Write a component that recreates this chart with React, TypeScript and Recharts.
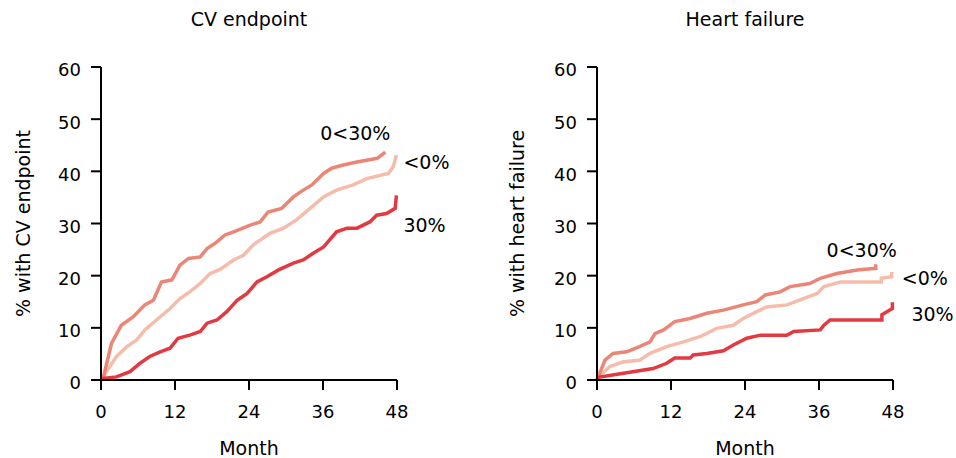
import React from 'react';
import { LineChart, Line, XAxis, YAxis } from 'recharts';

// [month, % with event]
const cvMid = [
  [0, 0], [0.4, 0.6], [1.7, 7.0], [3.3, 10.5], [5.2, 12.1], [7.1, 14.4], [8.5, 15.3], [9.8, 18.8],
  [11.5, 19.2], [12.8, 22.0], [14.2, 23.3], [16.1, 23.6], [17.2, 25.2], [18.5, 26.2], [20.1, 27.8],
  [21.5, 28.4], [24.2, 29.7], [25.8, 30.3], [27.1, 32.2], [29.3, 32.9], [31.2, 35.1], [32.8, 36.4],
  [34.2, 37.4], [36.1, 39.6], [37.4, 40.6], [39.3, 41.2], [41.5, 41.8], [44.8, 42.5], [46.1, 43.7],
];
const cvNeg = [
  [0, 0], [0.4, 0.7], [2.5, 4.5], [4.2, 6.4], [5.8, 7.7], [7.1, 9.6], [9.0, 11.5], [11.2, 13.7],
  [12.8, 15.6], [14.4, 16.9], [16.1, 18.5], [17.7, 20.4], [19.3, 21.2], [21.5, 23.0], [23.1, 23.9],
  [24.7, 25.9], [27.4, 28.1], [29.6, 29.1], [31.7, 30.7], [33.9, 32.9], [36.1, 35.1], [38.2, 36.4],
  [40.9, 37.4], [43.1, 38.6], [46.6, 39.6], [47.4, 40.9], [47.9, 43.1],
];
const cvHigh = [
  [0, 0], [0.4, 0.3], [2.5, 0.6], [4.7, 1.6], [6.3, 3.2], [7.9, 4.5], [9.6, 5.4], [11.2, 6.1],
  [12.5, 8.0], [14.4, 8.6], [16.1, 9.3], [17.2, 10.9], [18.8, 11.5], [20.4, 13.1], [22.1, 15.3],
  [23.7, 16.6], [25.3, 18.8], [26.9, 19.8], [28.8, 21.1], [31.2, 22.4], [32.8, 23.0], [34.4, 24.3],
  [36.1, 25.5], [38.2, 28.4], [39.9, 29.1], [41.5, 29.1], [43.6, 30.3], [44.7, 31.6], [46.3, 31.9],
  [47.7, 32.9], [47.9, 35.4],
];

const hfMid = [
  [0, 0], [0.2, 0.6], [1.3, 3.8], [2.6, 5.1], [4.8, 5.4], [6.9, 6.4], [8.6, 7.3], [9.4, 8.9],
  [10.8, 9.6], [12.6, 11.2], [15.1, 11.8], [17.8, 12.8], [20.5, 13.4], [23.7, 14.4], [25.9, 15.0],
  [27.3, 16.3], [29.7, 16.9], [31.3, 17.9], [34.5, 18.5], [36.2, 19.5], [38.9, 20.4], [42.2, 21.1],
  [45.2, 21.4], [45.2, 22.2],
];
const hfNeg = [
  [0, 0], [0.2, 0.6], [2.1, 2.6], [4.3, 3.5], [6.9, 3.8], [8.6, 5.1], [11.3, 6.4], [14.0, 7.3],
  [16.7, 8.3], [19.4, 9.9], [22.1, 10.5], [23.7, 11.8], [25.9, 13.1], [27.5, 14.0], [30.8, 14.4],
  [33.5, 15.6], [35.7, 16.6], [36.8, 17.9], [39.5, 18.8], [46.1, 18.8], [46.1, 19.5], [47.8, 19.8],
  [47.8, 20.7],
];
const hfHigh = [
  [0, 0], [0.2, 0.5], [4.3, 1.3], [9.1, 2.2], [11.3, 3.2], [12.6, 4.2], [15.1, 4.2], [15.6, 4.8],
  [17.8, 5.1], [20.5, 5.6], [22.1, 6.7], [24.3, 8.0], [26.5, 8.6], [30.8, 8.6], [31.9, 9.3],
  [36.2, 9.6], [36.8, 10.5], [37.8, 11.5], [46.2, 11.5], [46.2, 12.5], [47.0, 13.1], [47.9, 13.7],
  [47.9, 14.9],
];

const monthTicks = [0, 12, 24, 36, 48];
const pctTicks = [0, 10, 20, 30, 40, 50, 60];

const COLORS = { mid: '#EB8677', neg: '#F6BCAB', high: '#E23A40' };

const toRows = (pts: number[][]) => pts.map(([month, v]) => ({ month, v }));

const endLabel = (text: string, last: number, dx: number, dy: number, anchor: string) => (props: any) => {
  if (props.index !== last) return null;
  return (
    <text x={props.x + dx} y={props.y + dy} textAnchor={anchor} dominantBaseline="central" fontSize={19} fill="#000">
      {text}
    </text>
  );
};

interface PanelProps {
  title: string;
  yLabel: string;
  mid: number[][];
  neg: number[][];
  high: number[][];
  yAxisWidth: number;
  rightMargin: number;
  yLabelX: number;
  labels: { mid: number[]; neg: number[]; high: number[] };
}

const Panel: React.FC<PanelProps> = ({ title, yLabel, mid, neg, high, yAxisWidth, rightMargin, yLabelX, labels }) => {
  const plotCenter = yAxisWidth + (478 - yAxisWidth - rightMargin) / 2;
  const series = [
    { key: 'neg', pts: neg, name: '<0%', lab: labels.neg, anchor: 'start' },
    { key: 'mid', pts: mid, name: '0<30%', lab: labels.mid, anchor: 'middle' },
    { key: 'high', pts: high, name: '30%', lab: labels.high, anchor: 'start' },
  ];
  return (
    <div style={{ position: 'relative', width: 478, height: 458 }}>
      <div style={{ position: 'absolute', top: 8, left: plotCenter - 150, width: 300, textAlign: 'center', fontSize: 19 }}>
        {title}
      </div>
      <LineChart width={478} height={458} margin={{ top: 67, right: rightMargin, left: 0, bottom: 0 }}>
        <XAxis
          type="number"
          dataKey="month"
          domain={[0, 48]}
          ticks={monthTicks}
          tickSize={10}
          tickMargin={15}
          axisLine={{ stroke: '#000', strokeWidth: 2 }}
          tickLine={{ stroke: '#000', strokeWidth: 2 }}
          tick={{ fill: '#000', fontSize: 18 }}
          height={78}
          label={{
            content: (p: any) => (
              <text x={p.viewBox.x + p.viewBox.width / 2} y={448} textAnchor="middle" dominantBaseline="central" fontSize={19} fill="#000">
                Month
              </text>
            ),
          }}
        />
        <YAxis
          type="number"
          domain={[0, 60]}
          ticks={pctTicks}
          tickSize={10}
          tickMargin={10}
          width={yAxisWidth}
          axisLine={{ stroke: '#000', strokeWidth: 2 }}
          tickLine={{ stroke: '#000', strokeWidth: 2 }}
          tick={{ fill: '#000', fontSize: 18, dy: 3 }}
          label={{
            content: (p: any) => {
              const cy = p.viewBox.y + p.viewBox.height / 2;
              return (
                <text x={yLabelX} y={cy} transform={`rotate(-90 ${yLabelX} ${cy})`} textAnchor="middle" dominantBaseline="central" fontSize={19} fill="#000">
                  {yLabel}
                </text>
              );
            },
          }}
        />
        {series.map((s) => (
          <Line
            key={s.key}
            data={toRows(s.pts)}
            dataKey="v"
            type="linear"
            stroke={(COLORS as any)[s.key]}
            strokeWidth={3.5}
            dot={false}
            isAnimationActive={false}
            label={endLabel(s.name, s.pts.length - 1, s.lab[0], s.lab[1], s.anchor)}
          />
        ))}
      </LineChart>
    </div>
  );
};

export default function App() {
  return (
    <div style={{ position: 'absolute', left: 0, top: 0, width: 956, height: 458, display: 'flex', background: '#fff', fontFamily: '"DejaVu Sans", sans-serif' }}>
      <Panel
        title="CV endpoint"
        yLabel="% with CV endpoint"
        mid={cvMid}
        neg={cvNeg}
        high={cvHigh}
        yAxisWidth={101}
        rightMargin={81}
        yLabelX={23}
        labels={{ mid: [-30, -19], neg: [7, 7], high: [7, 30] }}
      />
      <Panel
        title="Heart failure"
        yLabel="% with heart failure"
        mid={hfMid}
        neg={hfNeg}
        high={hfHigh}
        yAxisWidth={119}
        rightMargin={63}
        yLabelX={39}
        labels={{ mid: [-14, -14], neg: [10, 6], high: [19, 12] }}
      />
    </div>
  );
}
